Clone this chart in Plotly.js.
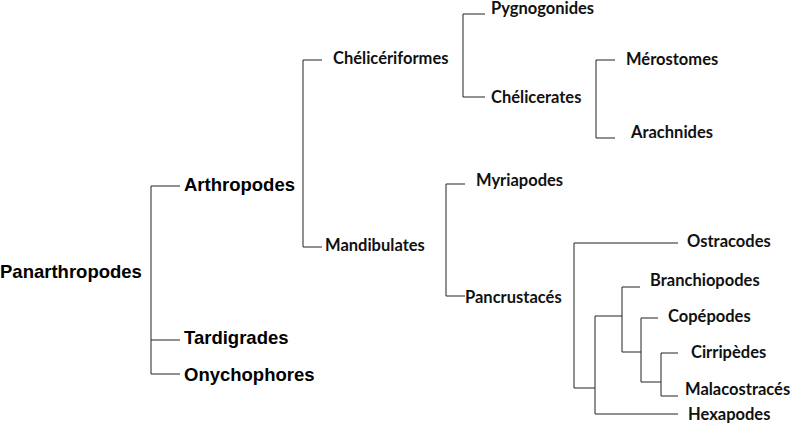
<!DOCTYPE html>
<html><head><meta charset="utf-8">
<script src="https://cdn.plot.ly/plotly-3.0.1.min.js"></script>
<style>body{margin:0}#c{width:800px;height:429px}</style></head>
<body><div id="c"></div>
<script>
// Tree branch segments (x0, y0, x1, y1) in diagram units
const segX0 = [151,151,151,151, 303,303,303, 463,463,463, 596,596,596, 446,446,446, 574,574,574, 595,595,595, 622,622,622, 641,641,641, 661,661,661];
const segY0 = [186,186,340,374, 60,60,247, 14,14,97, 60,60,138, 184,184,296, 243,243,388, 316,316,414, 287,287,352, 318,318,382, 353,353,396];
const segX1 = [151,180,180,180, 303,322,322, 463,485,485, 596,615,615, 446,465,465, 574,678,595, 595,622,678, 622,640,641, 641,658,661, 661,678,678];
const segY1 = [374,186,340,374, 247,60,247, 97,14,97, 138,60,138, 296,184,296, 388,243,388, 414,316,414, 352,287,352, 382,318,382, 396,353,396];
// Taxa labels
const bigLabels = ["Panarthropodes","Arthropodes","Tardigrades","Onychophores"];
const bigX = [0,184,184,184];
const bigY = [273,186,339,376];
const smallLabels = ["Chélicériformes","Pygnogonides","Chélicerates","Mérostomes","Arachnides","Mandibulates","Myriapodes","Pancrustacés","Ostracodes","Branchiopodes","Copépodes","Cirripèdes","Malacostracés","Hexapodes"];
const smallX = [333,491,491,626,631,325,476,465,687,650,668,691,685,688];
const smallY = [60,10,99,61,134,247,182,299,243,282,318,354,391,416];

const lx=[], ly=[];
for (let i=0;i<segX0.length;i++){lx.push(segX0[i],segX1[i],null);ly.push(segY0[i],segY1[i],null);}
const data = [
 {x:lx,y:ly,mode:'lines',line:{color:'#222',width:1},hoverinfo:'skip'},
 {x:bigX,y:bigY,text:bigLabels,mode:'text',textposition:'middle right',
  textfont:{family:'Liberation Sans, Arial',size:18.5,color:'#000',weight:'bold'}},
 {x:smallX,y:smallY,text:smallLabels,mode:'text',textposition:'middle right',
  textfont:{family:'Lato',size:16.5,color:'#111',weight:'bold'}}
];
const layout = {
 width:800,height:429,margin:{l:0,r:0,t:0,b:0},showlegend:false,
 paper_bgcolor:'#fff',plot_bgcolor:'#fff',
 xaxis:{range:[0,800],visible:false,fixedrange:true},
 yaxis:{range:[429,0],visible:false,fixedrange:true}
};
Plotly.newPlot('c',data,layout,{staticPlot:true});
</script></body></html>
